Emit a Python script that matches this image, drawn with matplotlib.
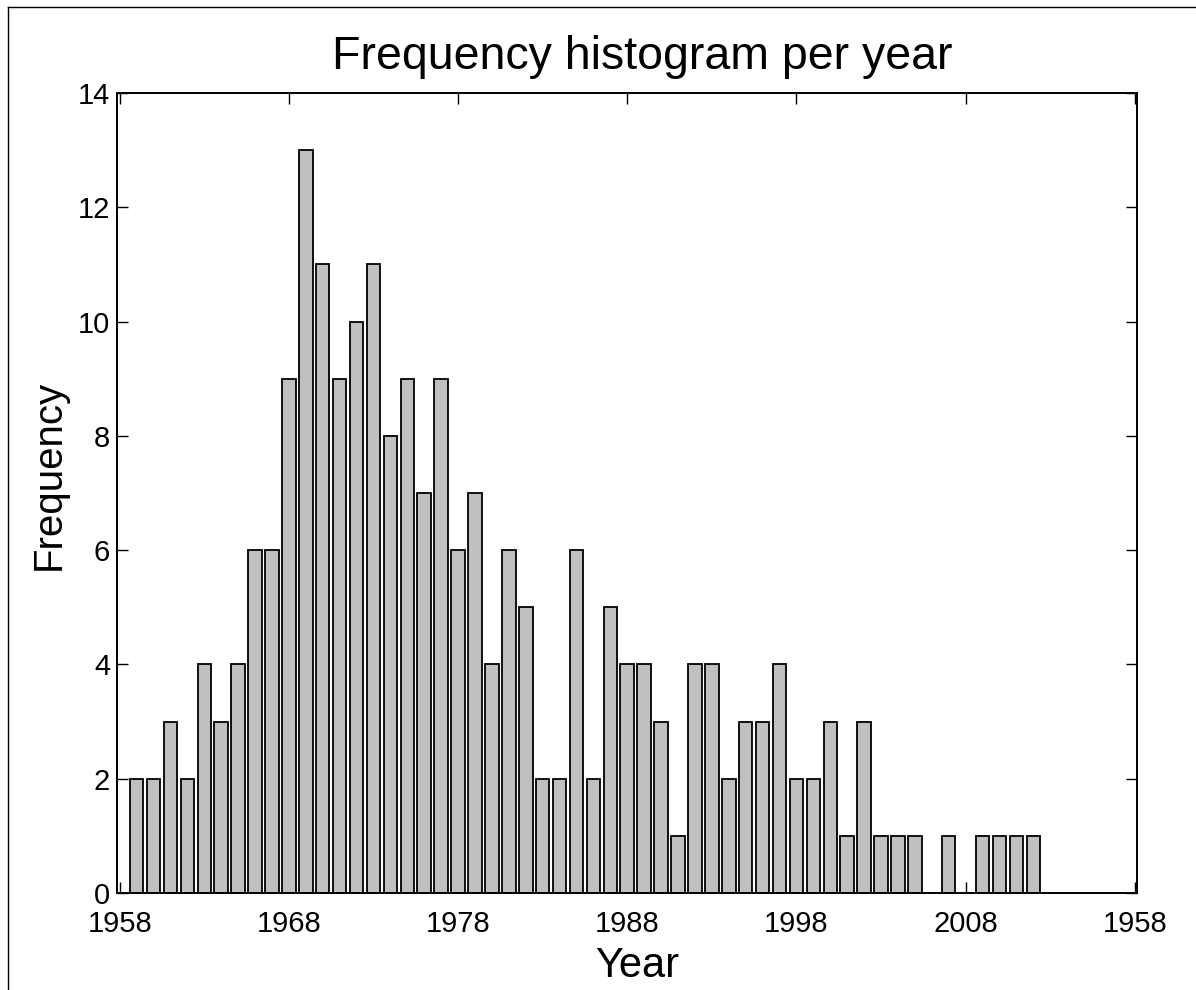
import matplotlib
matplotlib.use("Agg")
import matplotlib.pyplot as plt
from matplotlib.lines import Line2D


# yearly counts, 1959..2012
years = list(range(1959, 2013))
frequency = [2, 2, 3, 2, 4, 3, 4, 6, 6, 9,
             13, 11, 9, 10, 11, 8, 9, 7, 9, 6,
             7, 4, 6, 5, 2, 2, 6, 2, 5, 4,
             4, 3, 1, 4, 4, 2, 3, 3, 4, 2,
             2, 3, 1, 3, 1, 1, 1, 0, 1, 0,
             1, 1, 1, 1]

x_ticks = [1958, 1968, 1978, 1988, 1998, 2008, 2018]
x_tick_labels = ["1958", "1968", "1978", "1988", "1998", "2008", "1958"]
y_ticks = [0, 2, 4, 6, 8, 10, 12, 14]


def main():
	plt.rcParams['font.family'] = ['Liberation Sans', 'DejaVu Sans']

	fig = plt.figure()
	fig.set_figwidth(11.96)
	fig.set_figheight(9.9)
	ax = fig.add_axes([117 / 1196, 97 / 990, 1020 / 1196, 800 / 990])

	ax.bar(years, frequency, width=0.8, color="#c0c0c0", edgecolor="black", linewidth=1.3, zorder=3)

	ax.set_xlim(1957.84, 2018.13)
	ax.set_ylim(0, 14)
	ax.set_xticks(x_ticks)
	ax.set_xticklabels(x_tick_labels)
	ax.set_yticks(y_ticks)
	ax.tick_params(direction="in", length=8, width=1, top=True, right=True, labelsize=21)
	ax.tick_params(axis="x", pad=12)
	ax.tick_params(axis="y", pad=5)
	for spine in ax.spines.values():
		spine.set_linewidth(1.4)
		spine.set_zorder(4)

	ax.set_title("Frequency histogram per year", fontsize=33.5, pad=17)
	ax.title.set_x(0.515)
	ax.set_xlabel("Year", fontsize=30, labelpad=6)
	ax.set_ylabel("Frequency", fontsize=29, labelpad=7)
	ax.xaxis.label.set_x(0.51)
	ax.yaxis.label.set_y(0.522)

	# thin frame around the exported figure (top and left edges only)
	fig.add_artist(Line2D([8 / 1196, 8 / 1196], [0, 1 - 7 / 990], color="black", linewidth=1))
	fig.add_artist(Line2D([8 / 1196, 1], [1 - 7 / 990, 1 - 7 / 990], color="black", linewidth=1))

	plt.savefig("out.png", dpi=100)


if __name__ == '__main__':
	main()
